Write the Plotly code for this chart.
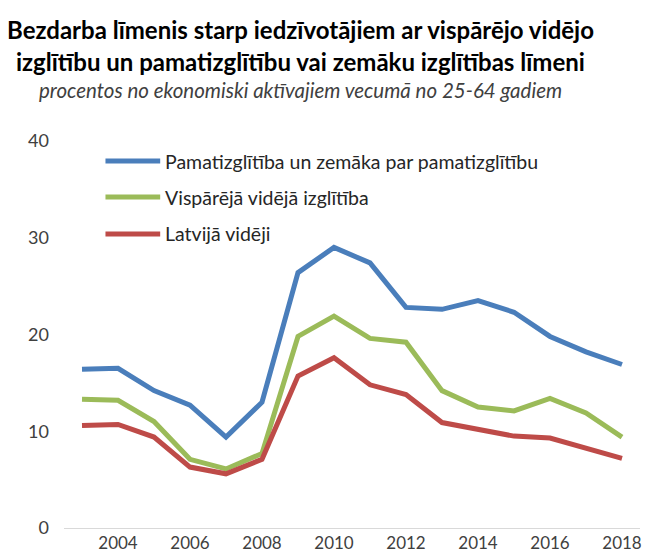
import plotly.graph_objects as go

years = list(range(2003, 2019))
basic = [16.4, 16.5, 14.2, 12.7, 9.4, 13.0, 26.4, 29.0, 27.4, 22.8, 22.6, 23.5, 22.3, 19.8, 18.2, 16.9]
general_secondary = [13.3, 13.2, 11.0, 7.1, 6.1, 7.7, 19.8, 21.9, 19.6, 19.2, 14.2, 12.5, 12.1, 13.4, 11.9, 9.4]
latvia_avg = [10.6, 10.7, 9.4, 6.3, 5.6, 7.1, 15.7, 17.6, 14.8, 13.8, 10.9, 10.2, 9.5, 9.3, 8.2, 7.2]

names = ["Pamatizglītība un zemāka par pamatizglītību", "Vispārējā vidējā izglītība", "Latvijā vidēji"]
colors = ["#4a7ebb", "#9bbb59", "#be4b48"]
series = [basic, general_secondary, latvia_avg]

FONT = "Lato"
fig = go.Figure()
for name, col, vals in zip(names, colors, series):
    fig.add_trace(go.Scatter(x=years, y=vals, mode="lines", name=name,
                             line=dict(color=col, width=5), showlegend=False))

# manual legend
leg_y = [0.948, 0.855, 0.760]
for name, col, yy in zip(names, colors, leg_y):
    fig.add_shape(type="line", xref="paper", yref="paper", x0=0.072, x1=0.167, y0=yy, y1=yy,
                  line=dict(color=col, width=5))
    fig.add_annotation(xref="paper", yref="paper", x=0.172, y=yy, text=name, showarrow=False,
                       xanchor="left", yanchor="middle", font=dict(family=FONT, size=19.5, color="#262626"))

# titles
fig.add_annotation(xref="paper", yref="paper", x=0.41, y=1.0, yshift=112, text="<b>Bezdarba līmenis starp iedzīvotājiem ar vispārējo vidējo</b>",
                   showarrow=False, xanchor="center", yanchor="middle", font=dict(family=FONT, size=24, color="black"))
fig.add_annotation(xref="paper", yref="paper", x=0.41, y=1.0, yshift=80, text="<b>izglītību un pamatizglītību vai zemāku izglītības līmeni</b>",
                   showarrow=False, xanchor="center", yanchor="middle", font=dict(family=FONT, size=24, color="black"))
fig.add_annotation(xref="paper", yref="paper", x=0.41, y=1.0, yshift=51, text="<i>procentos no ekonomiski aktīvajiem vecumā no 25-64 gadiem</i>",
                   showarrow=False, xanchor="center", yanchor="middle", font=dict(family=FONT, size=20.5, color="#404040"))

fig.update_layout(
    width=646, height=554,
    margin=dict(l=64, r=6, t=141, b=26),
    paper_bgcolor="white", plot_bgcolor="white",
    font=dict(family=FONT, color="#404040"),
    xaxis=dict(range=[2002.5, 2018.5], tickmode="array", tickvals=list(range(2004, 2019, 2)),
               showgrid=False, zeroline=False, showline=True, linecolor="#d9d9d9", linewidth=1,
               ticks="", tickfont=dict(size=17, color="#404040"), automargin=False),
    yaxis=dict(range=[0, 40], tickvals=[0, 10, 20, 30, 40], showgrid=False, zeroline=False,
               showline=False, ticks="", tickfont=dict(size=18, color="#404040"), ticklabelstandoff=14,
               automargin=False),
)
fig.write_html("out.html", config={"displayModeBar": False},
               post_script="document.body.style.margin='0';document.body.style.padding='0';")
